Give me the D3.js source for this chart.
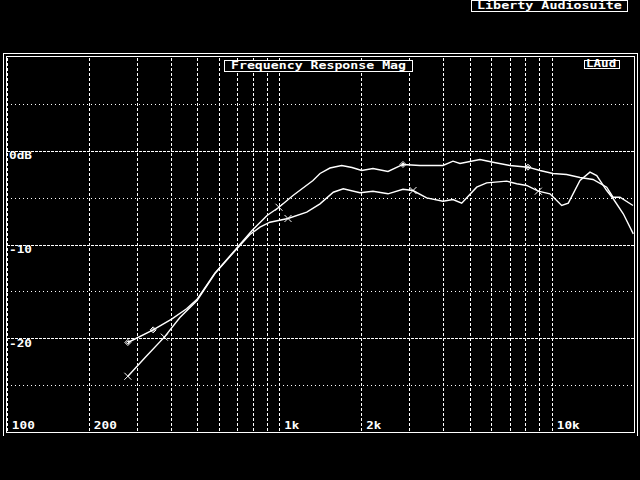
<!DOCTYPE html>
<html><head><meta charset="utf-8">
<script src="https://cdn.jsdelivr.net/npm/d3@7"></script>
<style>html,body{margin:0;padding:0;background:#000;overflow:hidden} svg{display:block}</style>
</head><body>
<svg id="c" width="640" height="480"></svg>
<script>
// ---------- data ----------
const freq1 = [277,343,401,455,497,578,697,791,898,993,1118,1324,1405,1528,1687,1841,1998,2198,2495,2832,3270,3972,4321,4584,5429,6059,6996,8143,9015,10060,11290,12640,14110,15840,16710,17720,19780];
const db1   = [-20.4,-19.05,-17.9,-16.8,-15.8,-13.0,-10.3,-8.45,-6.85,-5.97,-4.72,-3.12,-2.37,-1.79,-1.52,-1.73,-2.05,-1.84,-2.16,-1.41,-1.52,-1.52,-1.06,-1.31,-0.88,-1.17,-1.52,-1.70,-2.05,-2.37,-2.48,-2.80,-3.01,-3.83,-4.90,-4.90,-5.79];
const freq2 = [277,323,377,430,497,578,697,777,846,920,1072,1256,1405,1572,1710,1970,2198,2495,2832,3082,3460,3972,4321,4651,5280,5744,6803,7403,8054,8886,9807,10830,11450,12640,13750,14560,15840,16740,18220,19830];
const db2   = [-24.0,-21.9,-19.83,-17.73,-15.92,-13.04,-10.37,-8.88,-8.10,-7.57,-7.17,-6.50,-5.61,-4.37,-4.01,-4.43,-4.26,-4.54,-4.05,-4.19,-4.97,-5.33,-5.15,-5.54,-3.83,-3.37,-3.19,-3.47,-3.65,-4.26,-4.54,-5.79,-5.54,-3.12,-2.23,-2.59,-4.19,-5.07,-6.67,-8.81];
const markers1 = [277,343,993,2832,8143];
const markerTypes1 = ["d","d","x","d","d"];
const markers2 = [277,377,1072,3082,8886];
const markerTypes2 = ["x","x","x","x","x"];

const xGrid = [100,200,300,400,500,600,700,800,900,1000,2000,3000,4000,5000,6000,7000,8000,9000,10000];
const xTickValues = [100,200,1000,2000,10000];
const xTickLabels = ["100","200","1k","2k","10k"];
const yMajor = [0,-10,-20];
const yTickLabels = ["0dB","-10","-20"];
const yMinor = [5,-5,-15,-25];
const titleText = "Frequency Response Mag";
const brandText = "Liberty Audiosuite";
const tagText = "LAud";

// ---------- layout ----------
const svg = d3.select("#c");
svg.append("rect").attr("width",640).attr("height",480).attr("fill","#000");
const x = d3.scaleLog().domain([100,20000]).range([7.3,634.3]);
const y = d3.scaleLinear().domain([-30,10]).range([432.5,57.5]);
const pTop = 57, pBottom = 432, pLeft = 7, pRight = 634;
const W = "#fff";
const FONT = "'DejaVu Sans Mono', 'Liberation Mono', monospace";
const px = v => Math.floor(v)+0.5;

// frames
svg.append("path").attr("d",`M3.5,436 V53.5 H637.5 V436`).attr("fill","none").attr("stroke",W).attr("shape-rendering","crispEdges");
svg.append("rect").attr("x",6.5).attr("y",56.5).attr("width",628).attr("height",376).attr("fill","none").attr("stroke",W).attr("shape-rendering","crispEdges");

// grid
const grid = svg.append("g").attr("shape-rendering","crispEdges").attr("stroke",W).attr("stroke-width",1);
grid.selectAll("line.vx").data(xGrid).join("line").attr("class","vx")
  .attr("x1",d=>px(x(d))).attr("x2",d=>px(x(d))).attr("y1",pTop+1).attr("y2",pBottom)
  .attr("stroke-dasharray","3,2");
grid.selectAll("line.hmaj").data(yMajor).join("line").attr("class","hmaj")
  .attr("x1",pLeft).attr("x2",pRight).attr("y1",d=>px(y(d))).attr("y2",d=>px(y(d)))
  .attr("stroke-dasharray","3,1");
grid.selectAll("line.hmin").data(yMinor).join("line").attr("class","hmin")
  .attr("x1",pLeft).attr("x2",pRight).attr("y1",d=>px(y(d))).attr("y2",d=>px(y(d)))
  .attr("stroke-dasharray","1,3");

function txt(g, s, xx, yy, cw){
  return g.append("text").attr("x",xx).attr("y",yy).text(s)
    .attr("fill",W).attr("font-family",FONT).attr("font-weight","bold").attr("font-size",10.5)
    .attr("textLength", s.length*cw-1).attr("lengthAdjust","spacingAndGlyphs");
}

// axis labels
const lab = svg.append("g");
xTickValues.forEach((v,i)=>txt(lab, xTickLabels[i], x(v)+4.5, 429, 8));
yMajor.forEach((v,i)=>txt(lab, yTickLabels[i], 9, y(v)+8, 8));

// curves
const line = d3.line().x(d=>x(d[0])).y(d=>y(d[1]));
const s1 = freq1.map((f,i)=>[f,db1[i]]);
const s2 = freq2.map((f,i)=>[f,db2[i]]);
const curves = svg.append("g").attr("fill","none").attr("stroke",W).attr("stroke-width",1.4);
curves.append("path").attr("d",line(s1));
curves.append("path").attr("d",line(s2));

function drawMarkers(fs, types, ff, dd){
  fs.forEach((f,i)=>{
    const k = ff.indexOf(f);
    const cx = x(f), cy = y(dd[k]);
    const p = types[i]==="d" ? "M0,-3 L3,0 L0,3 L-3,0 Z M0,-1.5 L1.5,0 L0,1.5 L-1.5,0 Z" : "M-3.5,-3.5 L3.5,3.5 M-3.5,3.5 L3.5,-3.5";
    svg.append("path").attr("d",p).attr("transform",`translate(${cx},${cy})`)
      .attr("fill","none").attr("stroke",W).attr("stroke-width",1);
  });
}
drawMarkers(markers1, markerTypes1, freq1, db1);
drawMarkers(markers2, markerTypes2, freq2, db2);

// title boxes
function box(x0,y0,w,h){
  svg.append("rect").attr("x",x0+0.5).attr("y",y0+0.5).attr("width",w).attr("height",h)
    .attr("fill","#000").attr("stroke",W).attr("shape-rendering","crispEdges");
}
box(224,60,188,11); txt(svg, titleText, 231, 68.5, 8);
box(584,60,35,8);  txt(svg, tagText, 586, 67, 7.8);
box(471,0,156,11); txt(svg, brandText, 477, 9.3, 8.1);
</script>
</body></html>
